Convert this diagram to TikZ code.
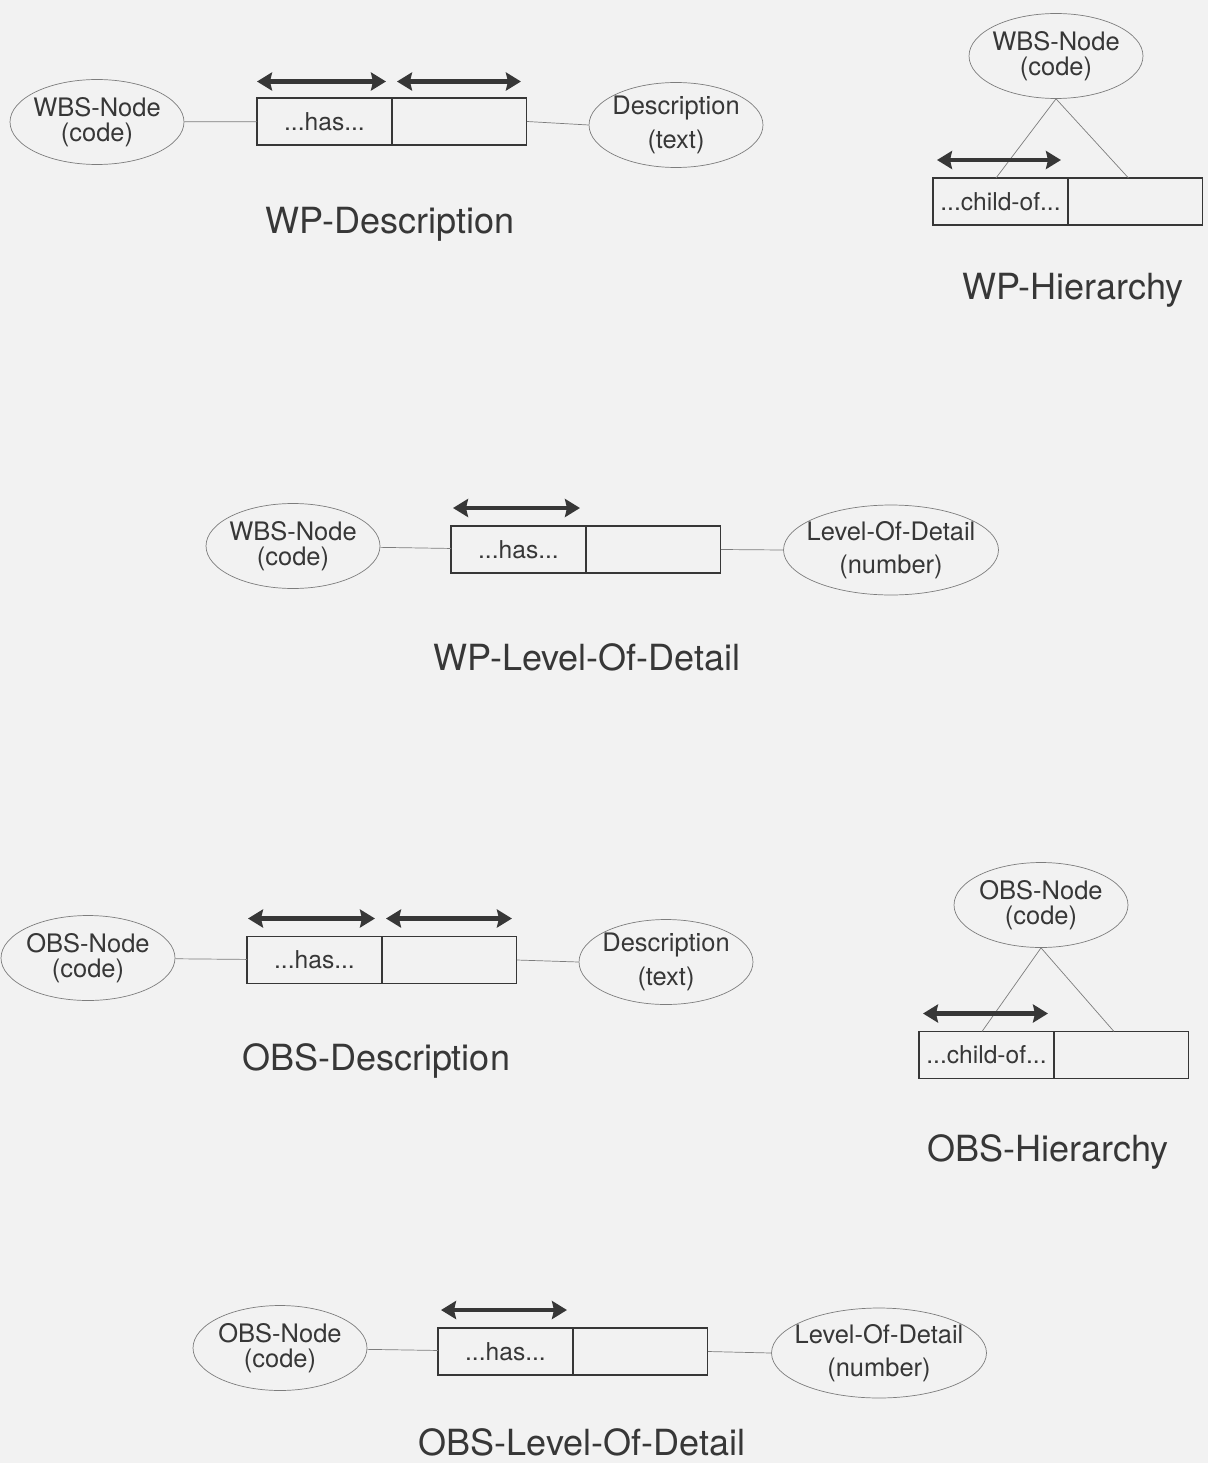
\documentclass[tikz,border=0pt]{standalone}
\usepackage{fontspec}
\setmainfont{TeX Gyre Heros}
\usetikzlibrary{shapes.geometric, arrows.meta, positioning}
\definecolor{scanbg}{RGB}{242, 242, 242}
\definecolor{inkgray}{RGB}{55, 55, 55}
\definecolor{linegray}{RGB}{125, 125, 125}

\begin{document}
\begin{tikzpicture}[
  x=0.02cm, y=-0.02cm,
  entity/.style = {ellipse, draw=linegray, thin, minimum width=3.48cm, minimum height=1.7cm,
                   inner sep=0pt, inner xsep=-0.05cm, align=center, text=inkgray,
                   font=\fontsize{14.5}{14}\selectfont},
  descentity/.style = {entity, font=\fontsize{14.5}{19}\selectfont},
  wideentity/.style = {descentity, inner xsep=-0.2cm, minimum width=4.3cm, minimum height=1.8cm},
  cell/.style = {rectangle, draw=inkgray, line width=0.6pt, minimum width=2.7cm, minimum height=0.94cm,
                 inner sep=0pt, outer sep=0pt, text=inkgray, font=\fontsize{14}{16}\selectfont},
  link/.style = {draw=linegray, thin},
  role/.style = {{Stealth[inset=0.04cm, length=0.3cm, width=0.36cm]}-{Stealth[inset=0.04cm, length=0.3cm, width=0.36cm]},
                 line width=2.6pt, color=inkgray},
  title/.style = {font=\fontsize{20.5}{24}\selectfont, text=inkgray}
]

\fill[scanbg] (0,0) rectangle (1208,1463);
\useasboundingbox (0,0) rectangle (1208,1463);

% WP-Description
\node[entity] (wbs1) at (97,122) {WBS-Node\\(code)};
\node[cell, anchor=west] (has1) at (257,121.5) {...has...};
\node[cell, right=0pt of has1] (val1) {};
\node[descentity] (desc1) at (676,125) {Description\\(text)};
\node[title] (t1) at (390,224) {WP-Description};
\draw[link] (wbs1) -- (has1);
\draw[link] (val1.east) -- (desc1.west);
\draw[role] ([yshift=0.33cm]has1.north west) -- ([xshift=-0.12cm, yshift=0.33cm]has1.north east);
\draw[role] ([xshift=0.1cm, yshift=0.33cm]val1.north west) -- ([xshift=-0.12cm, yshift=0.33cm]val1.north east);

% WP-Hierarchy
\node[entity] (wbs2) at (1056,56) {WBS-Node\\(code)};
\node[cell, anchor=west] (child1) at (933,201.5) {...child-of...};
\node[cell, right=0pt of child1] (val2) {};
\node[title] (t2) at (1073,290) {WP-Hierarchy};
\draw[link] (wbs2.south) -- ([xshift=-0.09cm]child1.north);
\draw[link] (wbs2.south) -- ([xshift=-0.14cm]val2.north);
\draw[role] ([xshift=0.08cm, yshift=0.36cm]child1.north west) -- ([xshift=-0.14cm, yshift=0.36cm]child1.north east);

% WP-Level-Of-Detail
\node[entity] (wbs3) at (293,546) {WBS-Node\\(code)};
\node[cell, anchor=west] (has3) at (451,549.5) {...has...};
\node[cell, right=0pt of has3] (val3) {};
\node[wideentity] (lod1) at (891,550) {Level-Of-Detail\\(number)};
\node[title] (t3) at (587,657) {WP-Level-Of-Detail};
\draw[link] (wbs3) -- (has3);
\draw[link] (val3.east) -- (lod1.west);
\draw[role] ([xshift=0.04cm, yshift=0.36cm]has3.north west) -- ([xshift=-0.12cm, yshift=0.36cm]has3.north east);

% OBS-Description
\node[entity] (obs1) at (88,958) {OBS-Node\\(code)};
\node[cell, anchor=west] (has4) at (247,960) {...has...};
\node[cell, right=0pt of has4] (val4) {};
\node[descentity] (desc2) at (666,962) {Description\\(text)};
\node[title] (t4) at (376,1061) {OBS-Description};
\draw[link] (obs1) -- (has4);
\draw[link] (val4.east) -- (desc2.west);
\draw[role] ([xshift=0.02cm, yshift=0.36cm]has4.north west) -- ([xshift=-0.14cm, yshift=0.36cm]has4.north east);
\draw[role] ([xshift=0.08cm, yshift=0.36cm]val4.north west) -- ([xshift=-0.1cm, yshift=0.36cm]val4.north east);

% OBS-Hierarchy
\node[entity] (obs2) at (1041,905) {OBS-Node\\(code)};
\node[cell, anchor=west] (child2) at (919,1055) {...child-of...};
\node[cell, right=0pt of child2] (val5) {};
\node[title] (t5) at (1048,1152) {OBS-Hierarchy};
\draw[link] (obs2.south) -- ([xshift=-0.09cm]child2.north);
\draw[link] (obs2.south) -- ([xshift=-0.15cm]val5.north);
\draw[role] ([xshift=0.08cm, yshift=0.36cm]child2.north west) -- ([xshift=-0.12cm, yshift=0.36cm]child2.north east);

% OBS-Level-Of-Detail
\node[entity] (obs3) at (280,1348) {OBS-Node\\(code)};
\node[cell, anchor=west] (has6) at (438,1351.5) {...has...};
\node[cell, right=0pt of has6] (val6) {};
\node[wideentity] (lod2) at (879,1353) {Level-Of-Detail\\(number)};
\node[title] (t6) at (582,1442) {OBS-Level-Of-Detail};
\draw[link] (obs3) -- (has6);
\draw[link] (val6.east) -- (lod2.west);
\draw[role] ([xshift=0.06cm, yshift=0.36cm]has6.north west) -- ([xshift=-0.12cm, yshift=0.36cm]has6.north east);

\end{tikzpicture}
\end{document}
